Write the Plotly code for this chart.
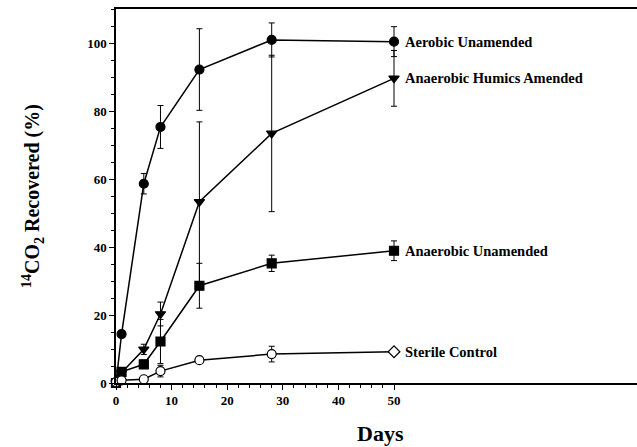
import plotly.graph_objects as go

days = [0, 1, 5, 8, 15, 28, 50]

aerobic = [0, 14.4, 58.6, 75.3, 92.2, 100.9, 100.4]
aerobic_err = [0, 1.0, 3.0, 6.3, 12.0, 5.0, 4.4]

humics = [0, 3.0, 9.9, 20.3, 53.3, 73.4, 89.6]
humics_err = [0, 0.8, 1.5, 3.5, 23.5, 23.0, 8.2]

anaerobic = [0, 3.3, 5.5, 12.2, 28.6, 35.2, 38.9]
anaerobic_err = [0, 0.8, 1.2, 6.5, 6.6, 2.4, 2.9]

sterile = [0.3, 0.8, 1.1, 3.5, 6.7, 8.5, 9.2]
sterile_err = [0, 0.3, 0.4, 1.7, 0.6, 2.3, 0.6]

series_names = ["Aerobic Unamended", "Anaerobic Humics Amended",
                "Anaerobic Unamended", "Sterile Control"]

x_ticks = [0, 10, 20, 30, 40, 50]
x_minor = list(range(0, 51, 2))
y_ticks = [0, 20, 40, 60, 80, 100]
y_minor = list(range(0, 111, 5))

FONT = "Liberation Serif"

fig = go.Figure()

def add_series(y, err, name, symbol, fill):
    fig.add_trace(go.Scatter(
        x=days, y=y, name=name, mode="lines+markers",
        line=dict(color="black", width=1.5),
        marker=dict(symbol=symbol, size=9, color=fill,
                    line=dict(color="black", width=1.2)),
        error_y=dict(type="data", array=err, visible=True,
                     color="black", thickness=1, width=3),
        cliponaxis=False, showlegend=False))

add_series(aerobic, aerobic_err, series_names[0], "circle", "black")
add_series(humics, humics_err, series_names[1], "triangle-down", "black")
add_series(anaerobic, anaerobic_err, series_names[2], "square", "black")
sterile_symbols = ["circle"] * (len(days) - 1) + ["diamond"]
add_series(sterile, sterile_err, series_names[3], "circle", "white")
fig.data[-1].marker.symbol = sterile_symbols

last_vals = [aerobic[-1], humics[-1], anaerobic[-1], sterile[-1]]
for name, v in zip(series_names, last_vals):
    fig.add_annotation(x=days[-1], y=v, xref="x", yref="y", text=name,
                       showarrow=False, xanchor="left", yanchor="middle",
                       xshift=9, font=dict(family=FONT, size=14.5,
                                           color="black", weight="bold"))

fig.add_annotation(xref="paper", yref="paper", x=(380 - 116) / 521,
                   y=-(433 - 383) / 374, text="Days", showarrow=False,
                   xanchor="center", yanchor="middle",
                   font=dict(family=FONT, size=22, color="black", weight="bold"))
fig.add_annotation(xref="paper", yref="paper", x=(33 - 116) / 521,
                   y=0.5, text="<sup>14</sup>CO<sub>2</sub> Recovered (%)",
                   showarrow=False, textangle=-90,
                   xanchor="center", yanchor="middle",
                   font=dict(family=FONT, size=20, color="black", weight="bold"))

fig.update_layout(
    width=637, height=447,
    margin=dict(l=116, r=0, t=9, b=64),
    paper_bgcolor="white", plot_bgcolor="white",
    xaxis=dict(range=[0, 93.7], showgrid=False, zeroline=False,
               showline=True, linecolor="black", linewidth=1.5, mirror=True,
               tickmode="array", tickvals=x_ticks, ticks="outside",
               ticklen=5, tickwidth=1, tickcolor="black",
               minor=dict(tickmode="array", tickvals=x_minor, ticks="outside",
                          ticklen=3, tickwidth=1, tickcolor="black"),
               tickfont=dict(family=FONT, size=13, color="black", weight="bold")),
    yaxis=dict(range=[0, 110], showgrid=False, zeroline=False,
               showline=True, linecolor="black", linewidth=1.5,
               tickmode="array", tickvals=y_ticks, ticks="outside",
               ticklen=5, tickwidth=1, tickcolor="black",
               minor=dict(tickmode="array", tickvals=y_minor, ticks="outside",
                          ticklen=3, tickwidth=1, tickcolor="black"),
               tickfont=dict(family=FONT, size=13, color="black", weight="bold")),
)

fig.write_html("out.html")
